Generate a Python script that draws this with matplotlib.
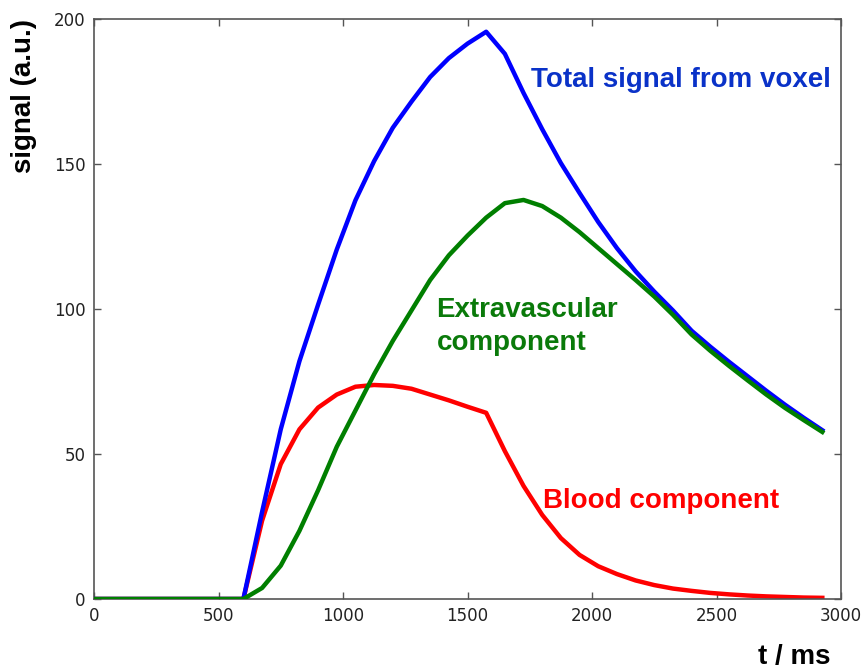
import matplotlib
matplotlib.use("Agg")
import matplotlib.pyplot as plt

# time points (ms)
t_ms = [0, 75, 150, 225, 300, 375, 450, 525,
        600, 675, 750, 825, 900, 975, 1050, 1125, 1200, 1275, 1350, 1425,
        1500, 1575, 1650, 1725, 1800, 1875, 1950, 2025, 2100, 2175, 2250,
        2325, 2400, 2475, 2550, 2625, 2700, 2775, 2850, 2925]

total_signal = [0, 0, 0, 0, 0, 0, 0, 0,
                0, 30, 58.5, 82, 101.5, 120.5, 137.5, 151, 162.5, 171.5, 180, 186.5,
                191.5, 195.6, 188, 174.5, 162, 150.3, 140, 130, 121, 113, 106,
                99.5, 92.5, 87, 81.8, 76.8, 71.8, 67, 62.5, 58.2]

extravascular = [0, 0, 0, 0, 0, 0, 0, 0,
                 0, 3.8, 11.5, 23.5, 37.5, 52.5, 65, 77.5, 89, 99.5, 110, 118.5,
                 125.3, 131.5, 136.5, 137.6, 135.5, 131.5, 126.5, 121, 115.5, 110, 104.3,
                 98, 91.2, 85.6, 80.4, 75.4, 70.5, 65.9, 61.7, 57.6]

blood = [0, 0, 0, 0, 0, 0, 0, 0,
         0, 27, 46.5, 58.5, 66, 70.5, 73.2, 73.8, 73.5, 72.5, 70.5, 68.5,
         66.3, 64.2, 51, 39, 29, 21, 15.2, 11.3, 8.6, 6.4, 4.8,
         3.6, 2.8, 2.1, 1.6, 1.2, 0.9, 0.7, 0.5, 0.4]

x_ticks = [0, 500, 1000, 1500, 2000, 2500, 3000]
y_ticks = [0, 50, 100, 150, 200]

fig = plt.figure(figsize=(8.64, 6.72), dpi=100)
ax = fig.add_axes([94/864, 1-599/672, (841-94)/864, (599-19)/672])

ax.plot(t_ms, blood, color='#ff0000', lw=3.2, zorder=2)
ax.plot(t_ms, total_signal, color='#0000ff', lw=3.2, zorder=3)
ax.plot(t_ms, extravascular, color='#007f00', lw=3.2, zorder=4)

ax.set_xlim(0, 3000)
ax.set_ylim(0, 200)
ax.set_xticks(x_ticks)
ax.set_yticks(y_ticks)
ax.tick_params(direction='in', top=True, right=True, length=5, width=1,
               color='#555555', labelsize=12, labelcolor='#222222')
ax.tick_params(axis='x', pad=6)
ax.tick_params(axis='y', pad=6)
for s in ax.spines.values():
    s.set_color('#555555')
    s.set_linewidth(1.2)

tf = 'Liberation Sans'
ax.text(1757, 176.4, 'Total signal from voxel', color='#0a32c8', fontsize=20,
        fontweight='bold', family=tf, ha='left', va='baseline')
ax.text(1376, 97.3, 'Extravascular', color='#0a7a0a', fontsize=20,
        fontweight='bold', family=tf, ha='left', va='baseline')
ax.text(1376, 85.9, 'component', color='#0a7a0a', fontsize=20,
        fontweight='bold', family=tf, ha='left', va='baseline')
ax.text(1802, 31.3, 'Blood component', color='#ff0000', fontsize=20,
        fontweight='bold', family=tf, ha='left', va='baseline')

fig.text(24/864, 1-96/672, 'signal (a.u.)', rotation=90, fontsize=20,
         fontweight='bold', family=tf, ha='center', va='center', color='black')
fig.text(794/864, 1-657/672, 't / ms', fontsize=20, fontweight='bold',
         family=tf, ha='center', va='center', color='black')

fig.savefig('out.png', dpi=100, facecolor='white')
